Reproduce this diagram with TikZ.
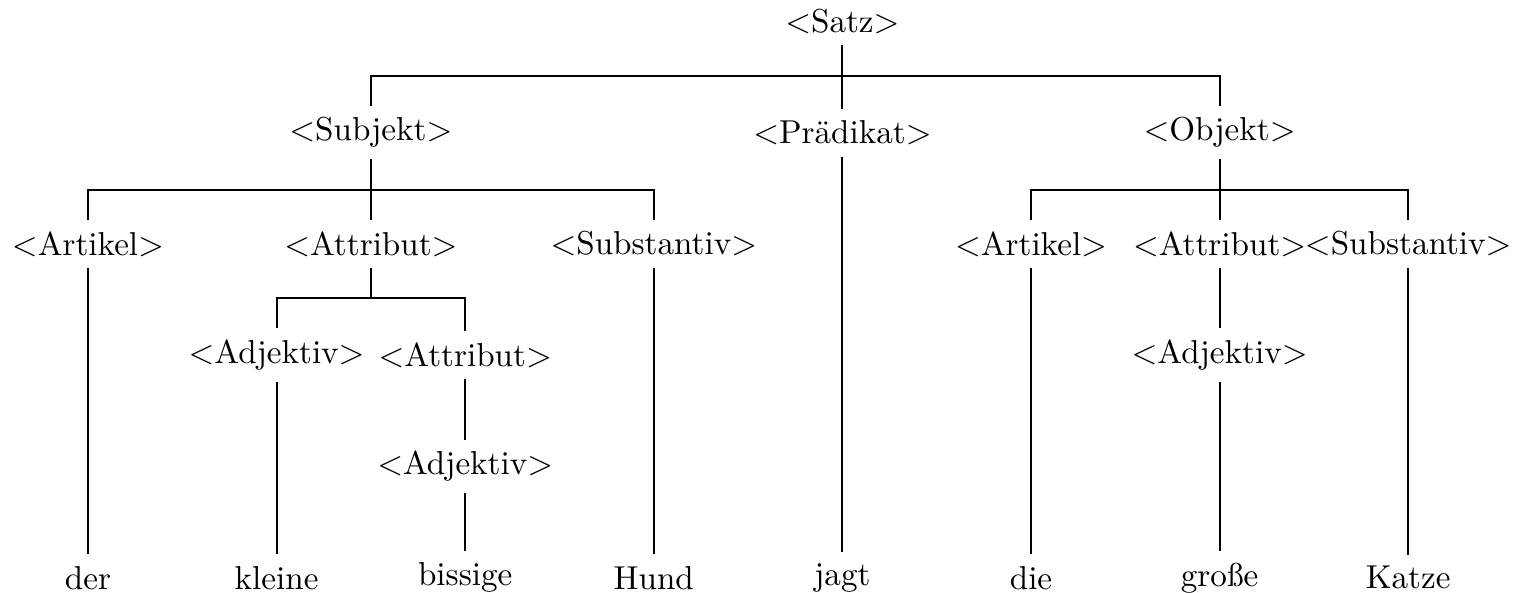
\documentclass[tikz,border=0pt]{standalone}
\usepackage{tikz}
\usetikzlibrary{calc}

\begin{document}
\begin{tikzpicture}[branch/.style={semithick}]
    \useasboundingbox (-0.933,0.227) rectangle (15.143,-6.054);
    % Ebenen
    \node (satz) at (8,0) {$<$Satz$>$};
    \node (subj) at (3,-1.18) {$<$Subjekt$>$};
    \node (praed) at (8,-1.18) {$<$Prädikat$>$};
    \node (obj) at (12,-1.18) {$<$Objekt$>$};
    \node (artl) at (0,-2.36) {$<$Artikel$>$};
    \node (attl) at (3,-2.36) {$<$Attribut$>$};
    \node (subl) at (6,-2.36) {$<$Substantiv$>$};
    \node (artr) at (10,-2.36) {$<$Artikel$>$};
    \node (attr) at (12,-2.36) {$<$Attribut$>$};
    \node (subr) at (14,-2.36) {$<$Substantiv$>$};
    \node (adjl) at (2,-3.54) {$<$Adjektiv$>$};
    \node (attl2) at (4,-3.54) {$<$Attribut$>$};
    \node (adjr) at (12,-3.54) {$<$Adjektiv$>$};
    \node (adjl2) at (4,-4.72) {$<$Adjektiv$>$};
    % Woerter
    \node (der) at (0,-5.9) {der};
    \node (kleine) at (2,-5.9) {kleine};
    \node (bissige) at (4,-5.9) {bissige};
    \node (hund) at (6,-5.9) {Hund};
    \node (jagt) at (8,-5.9) {jagt};
    \node (die) at (10,-5.9) {die};
    \node (grosse) at (12,-5.9) {große};
    \node (katze) at (14,-5.9) {Katze};
    % Verzweigungen
    \draw[branch] (satz.south) |- ($(satz.south)!.5!(subj.north)$) -| (subj.north);
    \draw[branch] (satz.south) -- (praed.north);
    \draw[branch] (satz.south) |- ($(satz.south)!.5!(subj.north)$) -| (obj.north);
    \draw[branch] (subj.south) |- ($(subj.south)!.5!(artl.north)$) -| (artl.north);
    \draw[branch] (subj.south) -- (attl.north);
    \draw[branch] (subj.south) |- ($(subj.south)!.5!(artl.north)$) -| (subl.north);
    \draw[branch] (obj.south) |- ($(obj.south)!.5!(artr.north)$) -| (artr.north);
    \draw[branch] (obj.south) -- (attr.north);
    \draw[branch] (obj.south) |- ($(obj.south)!.5!(artr.north)$) -| (subr.north);
    \draw[branch] (attl.south) |- ($(attl.south)!.5!(adjl.north)$) -| (adjl.north);
    \draw[branch] (attl.south) |- ($(attl.south)!.5!(adjl.north)$) -| (attl2.north);
    \draw[branch] (attl2.south) -- (adjl2.north);
    \draw[branch] (attr.south) -- (adjr.north);
    % Blaetter
    \draw[branch] (artl.south) -- (der.north);
    \draw[branch] (adjl.south) -- (kleine.north);
    \draw[branch] (adjl2.south) -- (bissige.north);
    \draw[branch] (subl.south) -- (hund.north);
    \draw[branch] (praed.south) -- (jagt.north);
    \draw[branch] (artr.south) -- (die.north);
    \draw[branch] (adjr.south) -- (grosse.north);
    \draw[branch] (subr.south) -- (katze.north);
\end{tikzpicture}
\end{document}
